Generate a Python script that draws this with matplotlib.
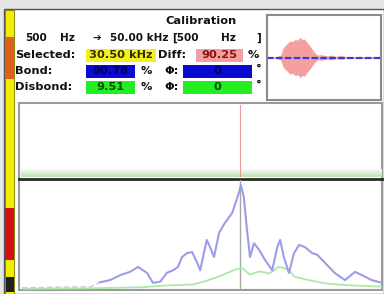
import numpy as np
import matplotlib.pyplot as plt
from matplotlib.patches import Rectangle

W, H = 384, 294

# spectrum: frequency (kHz) and amplitude (%)
freq_blue = [0.5, 5.0, 10.0, 11.2, 12.6, 14.0, 15.35, 16.45, 17.7, 18.5, 19.5, 20.4, 21.3,
             21.95, 22.5, 23.2, 23.9, 24.6, 25.0, 25.9, 26.35, 26.9, 27.6, 28.4, 29.4, 30.3,
             30.6, 31.0, 31.4, 31.85, 32.4, 33.1, 33.9, 34.9, 35.6, 36.0, 36.5, 37.2, 37.9,
             38.6, 39.4, 40.4, 41.1, 41.75, 42.7, 43.5, 44.9, 46.3, 47.25, 48.6, 50.0]
amp_blue = [2, 2.5, 3, 7, 9, 13.5, 16.5, 21, 15.5, 6.5, 7.5, 15.5, 18,
            21, 30, 33.5, 34.5, 24.5, 18, 45.5, 39, 30, 52, 61, 70, 88,
            95.5, 84.5, 57, 30, 42.5, 36.5, 27.5, 18, 39, 45.5, 30, 15.5, 33.5,
            41, 39, 33.5, 32, 27.5, 21, 15.5, 9, 16.5, 13.5, 9, 6.5]
freq_green = [0.5, 10, 17.0, 20.0, 24.0, 25.7, 27.45, 28.9, 30.0, 30.75, 31.85,
              33.1, 34.5, 35.8, 36.5, 37.2, 38.0, 39.9, 42.2, 44.9, 50.0]
amp_green = [1, 1.5, 2.5, 4, 5, 8, 12, 16, 19, 20, 14,
             17, 15, 21, 20, 18, 12, 9, 6, 4.5, 3]
selected_khz = 30.5

# waveform burst envelope (inset)
burst_t = [0, 0.08, 0.12, 0.14, 0.16, 0.18, 0.2, 0.22, 0.25, 0.27, 0.29, 0.31, 0.33,
           0.35, 0.38, 0.41, 0.44, 0.48, 0.52, 0.56, 0.6, 0.65, 0.7, 0.8, 0.9, 1.0]
burst_env = [0.03, 0.04, 0.12, 0.45, 0.6, 0.7, 0.82, 0.78, 0.9, 0.85, 1.0, 0.88, 0.92,
             0.75, 0.55, 0.3, 0.12, 0.14, 0.08, 0.12, 0.06, 0.09, 0.05, 0.04, 0.05, 0.03]

title = "Calibration"
range_parts = [(25, "500"), (60, "Hz"), (92, "\u2794"), (110, "50.00 kHz"),
               (172, "[500"), (221, "Hz"), (256, "]")]
sel_txt = "30.50 kHz"
diff_txt = "90.25"
bond_txt = "90.78"
bond_ph = "0"
disb_txt = "9.51"
disb_ph = "0"


def rect(x0, y0, x1, y1):
    # pixel box -> figure fraction
    return [x0 / W, 1 - y1 / H, (x1 - x0) / W, (y1 - y0) / H]


fig = plt.figure(figsize=(W / 100, H / 100), dpi=100)
fig.patch.set_facecolor('#e6e6e6')

# background layer in pixel coordinates
bg = fig.add_axes([0, 0, 1, 1])
bg.set_xlim(0, W)
bg.set_ylim(H, 0)
bg.axis('off')

bg.add_patch(Rectangle((4, 9), W - 4, H - 9, fc='white', ec='#555555', lw=1))
bg.add_patch(Rectangle((4.5, 9.5), 9, H - 9, fc='#f2ec00', ec='#777700', lw=0.6))
bg.add_patch(Rectangle((5, 37), 8.5, 42, fc='#e0601a', ec='none'))
bg.add_patch(Rectangle((5, 208), 8.5, 52, fc='#d01010', ec='none'))
bg.add_patch(Rectangle((6, 277), 7.5, 15, fc='#202020', ec='none'))

fnt = dict(family=['DejaVu Sans'], fontsize=8.2, fontweight='bold', va='center', color='#111111')
bg.text(201, 21, title, ha='center', **fnt)
rng = dict(fnt)
rng['fontsize'] = 7.5
for x, s in range_parts:
    bg.text(x, 38, s, ha='left', **rng)

rows = [55, 71, 87]
bg.text(15, rows[0], "Selected:", ha='left', **fnt)
bg.text(15, rows[1], "Bond:", ha='left', **fnt)
bg.text(15, rows[2], "Disbond:", ha='left', **fnt)

box = dict(fnt)
box.pop('color')
bg.add_patch(Rectangle((86, rows[0] - 6.5), 70, 13, fc='#f6f020', ec='none'))
bg.text(121, rows[0], sel_txt, ha='center', color='#303000', **box)
bg.text(158, rows[0], "Diff:", ha='left', **fnt)
bg.add_patch(Rectangle((196, rows[0] - 6.5), 47, 13, fc='#f0a0a0', ec='none'))
bg.text(219, rows[0], diff_txt, ha='center', color='#901010', **box)
bg.text(248, rows[0], "%", ha='left', **fnt)

box_cols = ['#0a0ad0', '#22ee22']
txt_cols = ['#000060', '#005000']
for r, c, tc, v, ph in zip(rows[1:], box_cols, txt_cols, [bond_txt, disb_txt], [bond_ph, disb_ph]):
    bg.add_patch(Rectangle((86, r - 6.5), 49, 13, fc=c, ec='none'))
    bg.text(110, r, v, ha='center', color=tc, **box)
    bg.text(141, r, "%", ha='left', **fnt)
    bg.text(164, r, "\u03a6:", ha='left', **fnt)
    bg.add_patch(Rectangle((183, r - 6.5), 69, 13, fc=c, ec='none'))
    bg.text(217, r, ph, ha='center', color=tc, **box)
    bg.text(256, r - 2, "\u00b0", ha='left', **fnt)

# plot frames
bg.add_patch(Rectangle((19, 103), W - 21, 187, fc='white', ec='#9a9a9a', lw=1.5))
for i, c in enumerate(['#f0f9ee', '#dff3da', '#cdecc6', '#bce6b3']):
    bg.add_patch(Rectangle((21, 169 + i * 2), W - 23, 2, fc=c, ec='none'))
bg.plot([19, W], [178.5, 178.5], color='#2a2a2a', lw=2)

# middle plot (empty trace area) with selection marker
mid = fig.add_axes(rect(22, 105, 382, 177))
mid.set_xlim(0.5, 50)
mid.set_ylim(0, 1)
mid.axis('off')
mid.axvline(selected_khz, color='#f08080', lw=0.8, alpha=0.8)

# spectrum plot
ax = fig.add_axes(rect(22, 180, 382, 290))
ax.set_xlim(0.5, 50)
ax.set_ylim(0, 100)
ax.axis('off')
ax.axvline(selected_khz, color='#a8a8a8', lw=1)
ax.plot(freq_green, amp_green, color='#ace8a6', lw=1.3)
ax.plot(freq_blue[:4], amp_blue[:4], color='#c8c8e0', lw=1.0, ls=(0, (4, 2)))
ax.plot(freq_blue[3:], amp_blue[3:], color='#9c9cea', lw=1.5)

# waveform inset
ins = fig.add_axes(rect(267, 15, 381, 100))
ins.set_xlim(0, 1)
ins.set_ylim(-2.1, 2.1)
ins.set_xticks([])
ins.set_yticks([])
for s in ins.spines.values():
    s.set_color('#8a8a8a')
    s.set_linewidth(1.5)
env = np.array(burst_env)
ins.fill_between(burst_t, -env, env, color='#f4a0a0', lw=0)
ins.plot([0, 1], [0, 0], color='#3a3ad8', lw=1.6, ls=(0, (3, 1)))

fig.savefig('out.png', dpi=100, facecolor=fig.get_facecolor())
